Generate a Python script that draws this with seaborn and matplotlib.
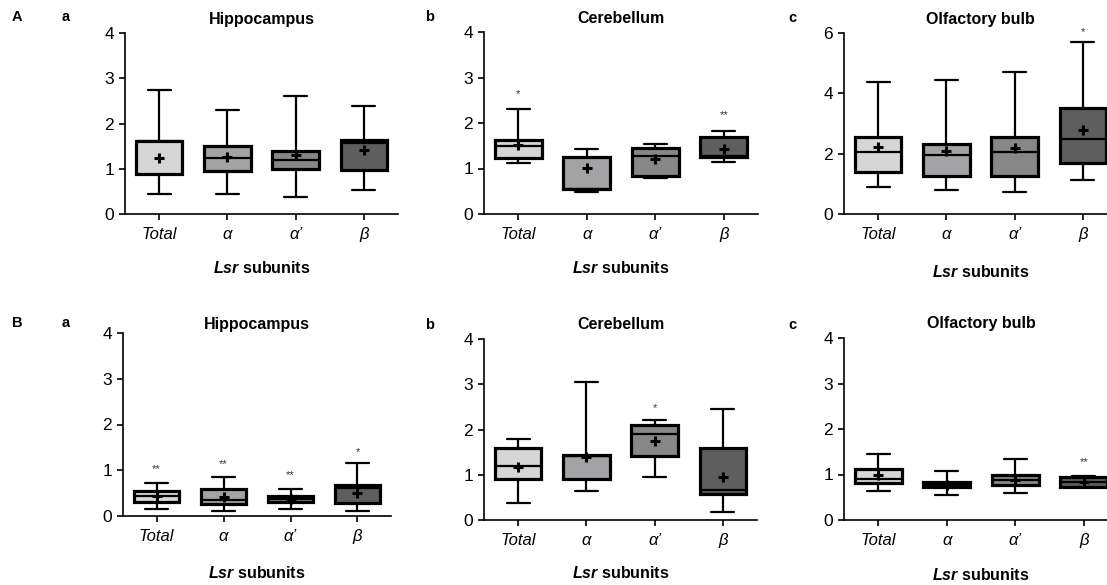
import numpy as np
import pandas as pd
import seaborn as sns
import matplotlib.pyplot as plt

subunits = ["Total", "α", "α’", "β"]
box_colors = ["#d6d6d6", "#a3a3a6", "#878787", "#5e5e5e"]

# five-number summaries per subunit: min, q1, median, q3, max
hippo_A = [[0.44, 0.89, 1.61, 1.62, 2.75],
           [0.44, 0.96, 1.23, 1.51, 2.30],
           [0.38, 0.99, 1.20, 1.40, 2.61],
           [0.53, 0.97, 1.58, 1.64, 2.39]]
hippo_A_mean = [1.23, 1.27, 1.30, 1.41]
hippo_A_stars = ["", "", "", ""]
hippo_A_star_y = [0, 0, 0, 0]

cereb_A = [[1.13, 1.23, 1.50, 1.63, 2.31],
           [0.48, 0.54, 0.55, 1.26, 1.42],
           [0.80, 0.84, 1.28, 1.45, 1.53],
           [1.14, 1.25, 1.27, 1.69, 1.83]]
cereb_A_mean = [1.51, 1.02, 1.20, 1.42]
cereb_A_stars = ["*", "", "", "**"]
cereb_A_star_y = [2.69, 0, 0, 2.23]

olf_A = [[0.91, 1.40, 2.07, 2.55, 4.37],
         [0.80, 1.27, 1.96, 2.33, 4.45],
         [0.74, 1.27, 2.04, 2.55, 4.71],
         [1.13, 1.68, 2.50, 3.50, 5.70]]
olf_A_mean = [2.21, 2.09, 2.20, 2.79]
olf_A_stars = ["", "", "", "*"]
olf_A_star_y = [0, 0, 0, 6.1]

hippo_B = [[0.15, 0.31, 0.44, 0.55, 0.72],
           [0.12, 0.26, 0.36, 0.58, 0.86],
           [0.15, 0.31, 0.37, 0.44, 0.59],
           [0.10, 0.28, 0.61, 0.68, 1.15]]
hippo_B_mean = [0.44, 0.42, 0.38, 0.50]
hippo_B_stars = ["**", "**", "**", "*"]
hippo_B_star_y = [1.08, 1.19, 0.95, 1.46]

cereb_B = [[0.37, 0.90, 1.20, 1.60, 1.80],
           [0.63, 0.90, 1.42, 1.43, 3.06],
           [0.96, 1.41, 1.89, 2.10, 2.21],
           [0.17, 0.57, 0.66, 1.60, 2.45]]
cereb_B_mean = [1.18, 1.40, 1.75, 0.96]
cereb_B_stars = ["", "", "*", ""]
cereb_B_star_y = [0, 0, 2.52, 0]

olf_B = [[0.64, 0.82, 0.91, 1.12, 1.46],
         [0.55, 0.73, 0.77, 0.83, 1.07],
         [0.59, 0.78, 0.89, 1.00, 1.35],
         [0.72, 0.73, 0.83, 0.94, 0.97]]
olf_B_mean = [0.99, 0.78, 0.89, 0.84]
olf_B_stars = ["", "", "", "**"]
olf_B_star_y = [0, 0, 0, 1.33]

sns.set_style("ticks")
plt.rcParams["font.family"] = ["Liberation Sans", "DejaVu Sans"]
plt.rcParams["mathtext.fontset"] = "custom"
plt.rcParams["mathtext.bfit"] = "Liberation Sans:italic:bold"
plt.rcParams["mathtext.bf"] = "Liberation Sans:bold"
plt.rcParams["mathtext.rm"] = "Liberation Sans"
for k in ["text.color", "axes.labelcolor", "xtick.color", "ytick.color"]:
    plt.rcParams[k] = "black"

W, H = 1107, 585
fig = plt.figure(figsize=(W / 100, H / 100), dpi=100)


def px_rect(left, right, top, bottom):
    return [left / W, 1 - bottom / H, (right - left) / W, (bottom - top) / H]


# title, stats, means, stars, star heights, ymax, ystep, axes rect, title pad, xlabel offset (px)
panels = [
    ("Hippocampus", hippo_A, hippo_A_mean, hippo_A_stars, hippo_A_star_y, 4, 1,
     px_rect(125, 398, 33, 214), 6.5, 54),
    ("Cerebellum", cereb_A, cereb_A_mean, cereb_A_stars, cereb_A_star_y, 4, 1,
     px_rect(484, 758, 32, 214), 6.5, 54),
    ("Olfactory bulb", olf_A, olf_A_mean, olf_A_stars, olf_A_star_y, 6, 2,
     px_rect(844, 1117, 33, 214), 6.5, 58),
    ("Hippocampus", hippo_B, hippo_B_mean, hippo_B_stars, hippo_B_star_y, 4, 1,
     px_rect(123, 391, 333, 516), 3, 57),
    ("Cerebellum", cereb_B, cereb_B_mean, cereb_B_stars, cereb_B_star_y, 4, 1,
     px_rect(484, 757, 339, 520), 7.5, 53),
    ("Olfactory bulb", olf_B, olf_B_mean, olf_B_stars, olf_B_star_y, 4, 1,
     px_rect(844, 1118, 338, 520), 7, 55),
]

for title, stats, means, stars, star_y, ymax, ystep, rect, tpad, xl_off in panels:
    ax = fig.add_axes(rect)
    df = pd.DataFrame({"subunit": np.repeat(subunits, 5), "value": np.ravel(stats)})
    sns.boxplot(data=df, x="subunit", y="value", hue="subunit", order=subunits,
                hue_order=subunits, palette=box_colors, saturation=1, dodge=False,
                whis=(0, 100), width=0.68, linecolor="black", linewidth=1.6,
                showfliers=False, legend=False, ax=ax,
                boxprops=dict(linewidth=2.3))
    ax.scatter(np.arange(4), means, marker="+", s=45, linewidths=2.2,
               color="black", zorder=5)
    for i, (s, y) in enumerate(zip(stars, star_y)):
        if s:
            ax.annotate(s, (i, y), xytext=(0, -4), textcoords="offset points",
                        ha="center", va="baseline", fontsize=8, color="#333333",
                        annotation_clip=False)
    ax.set_xlim(-0.5, 3.5)
    ax.set_ylim(0, ymax)
    ax.set_yticks(np.arange(0, ymax + 0.1, ystep))
    ax.set_xticks(range(4))
    ax.set_xticklabels(subunits, fontstyle="italic")
    ax.tick_params(axis="y", length=4, width=1.2, pad=4, labelsize=12.5)
    ax.tick_params(axis="x", length=4, width=1.2, pad=5.5, labelsize=12)
    ax.set_title(title, fontsize=11.5, fontweight="bold", pad=tpad)
    ax.set_ylabel("")
    ax.set_xlabel(r"$\mathbfit{Lsr}$ subunits", fontsize=11.5, fontweight="bold")
    ax.xaxis.label.set_va("center")
    ax.xaxis.set_label_coords(0.5, -xl_off / (rect[3] * H))
    sns.despine(ax=ax)
    for sp in ["left", "bottom"]:
        ax.spines[sp].set_linewidth(1.2)
        ax.spines[sp].set_color("black")

# panel letters
letters = [("A", 17, 17), ("a", 66, 17), ("b", 430, 17), ("c", 792, 18),
           ("B", 17, 323), ("a", 66, 323), ("b", 430, 325), ("c", 792, 325)]
for s, x, y in letters:
    fig.text(x / W, 1 - y / H, s, fontsize=10.5, fontweight="bold",
             ha="center", va="center")

fig.savefig("out.png", dpi=100)
